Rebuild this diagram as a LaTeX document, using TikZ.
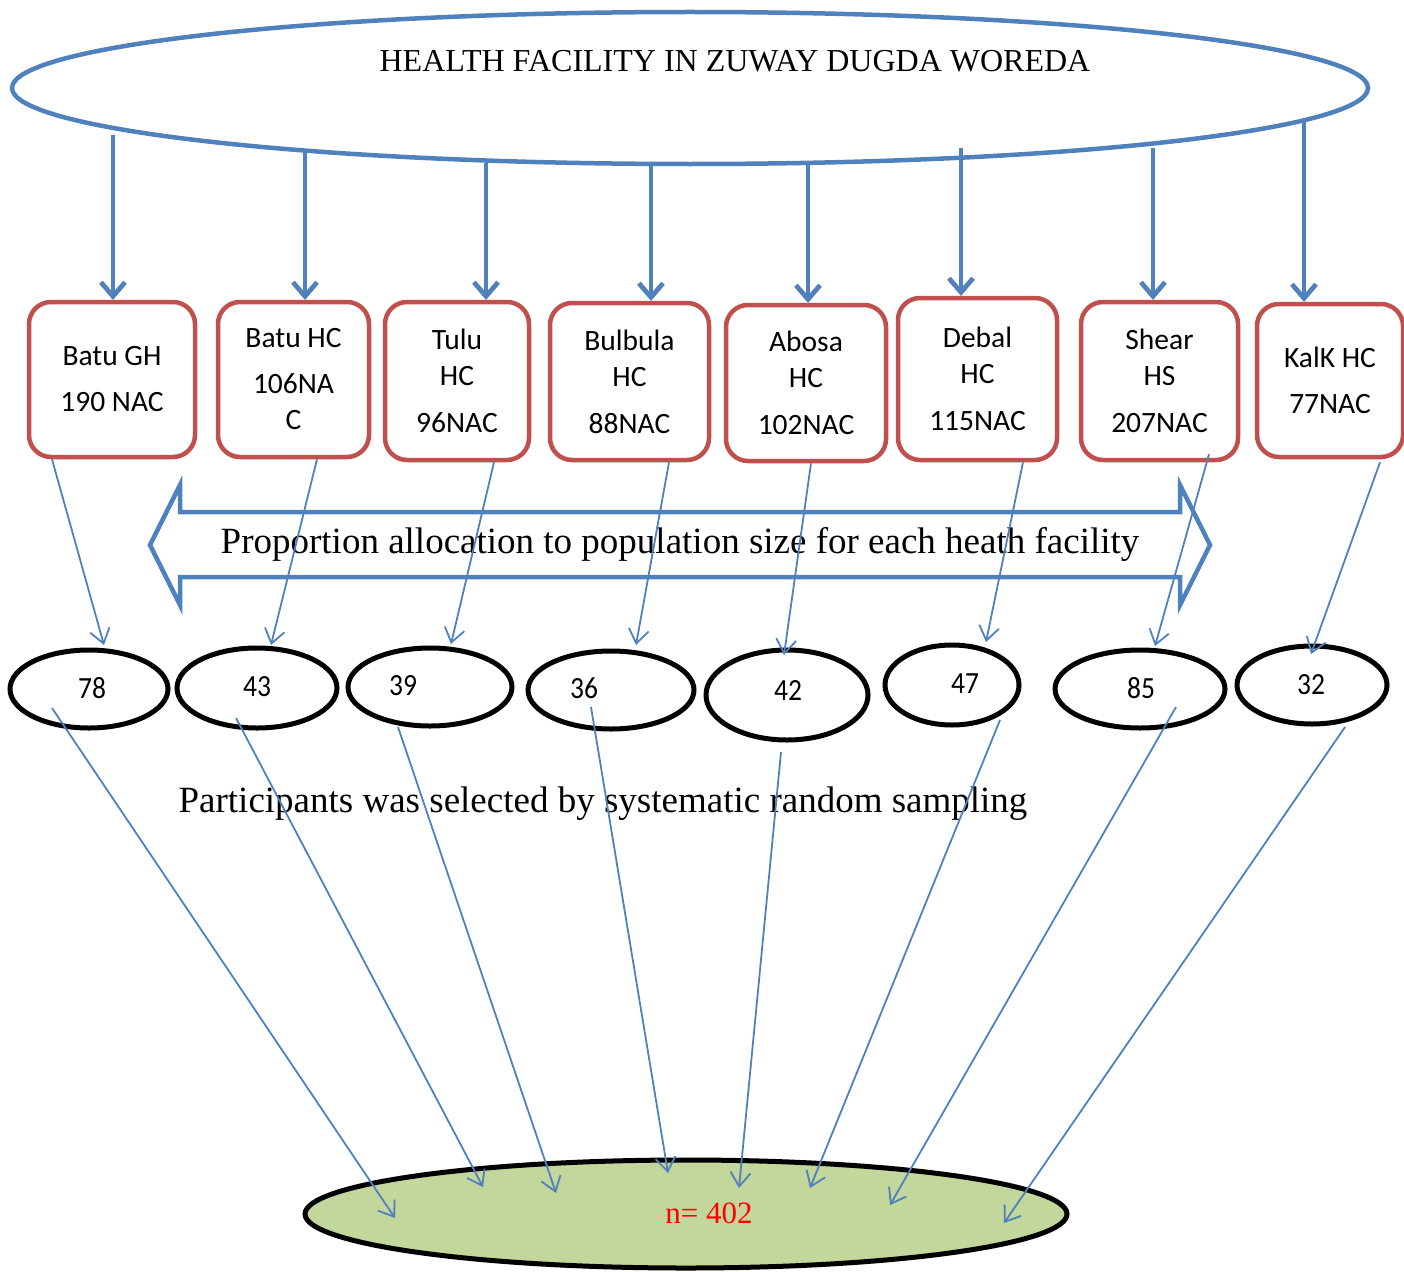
\documentclass[tikz,border=0pt]{standalone}
\usepackage{fontspec}
\setmainfont{Liberation Serif}
\newfontfamily\calfont{Carlito}
\usetikzlibrary{shapes.geometric,arrows.meta,calc}
\definecolor{ablue}{HTML}{4F81BD}
\definecolor{bred}{HTML}{C0504D}
\definecolor{bgreen}{HTML}{C3D69B}
\newcommand{\tallnum}[1]{\scalebox{1}[1.12]{#1}}
\begin{document}
\begin{tikzpicture}[x=1pt,y=-1pt,
  topell/.style={ellipse, draw=ablue, line width=4.5pt, inner sep=0pt, minimum width=1356pt, minimum height=152pt},
  facbox/.style={rectangle, rounded corners=22pt, draw=bred, line width=4.5pt, align=center, inner sep=0pt,
     font=\calfont\fontsize{29.5}{36}\selectfont},
  numell/.style={ellipse, draw=black, line width=5pt, inner sep=0pt},
  botell/.style={ellipse, draw=black, line width=5pt, fill=bgreen, inner sep=0pt, minimum width=762pt, minimum height=108pt},
  bigarrow/.style={draw=ablue, line width=4.5pt, -{Straight Barb[length=14pt,width=24pt]}},
  bigshadow/.style={draw=black!45, line width=4.5pt, -{Straight Barb[length=14pt,width=24pt]}},
  thinarrow/.style={draw=ablue, line width=1.8pt, -{Straight Barb[length=14pt,width=20pt]}},
  serif/.style={font=\fontsize{37}{44}\selectfont, inner sep=0pt, anchor=base},
  numtxt/.style={font=\calfont\fontsize{27.5}{32}\selectfont, inner sep=0pt}
]
\useasboundingbox (0,0) rectangle (1404,1271);

% top ellipse
\node[topell] (top) at (690,88) {};
\node[serif, font=\fontsize{32}{38}\selectfont] (toptext) at (735,72) {HEALTH FACILITY IN ZUWAY DUGDA WOREDA};

% facility boxes
\node[facbox, minimum width=166pt, minimum height=155pt] (b1) at (112,379.5) {Batu GH\\[10pt]190 NAC};
\node[facbox, minimum width=151pt, minimum height=155pt] (b2) at (293.5,379.5) {Batu HC\\[10pt]106NA\\C};
\node[facbox, minimum width=144pt, minimum height=158pt] (b3) at (457,381) {Tulu\\HC\\[11pt]96NAC};
\node[facbox, minimum width=159pt, minimum height=157pt] (b4) at (629.5,381.5) {Bulbula\\HC\\[11pt]88NAC};
\node[facbox, minimum width=160pt, minimum height=156pt] (b5) at (806,383) {Abosa\\HC\\[11pt]102NAC};
\node[facbox, minimum width=159pt, minimum height=162pt] (b6) at (977.5,379) {Debal\\HC\\[11pt]115NAC};
\node[facbox, minimum width=157pt, minimum height=158pt] (b7) at (1159.5,381) {Shear\\HS\\[11pt]207NAC};
\node[facbox, minimum width=146pt, minimum height=153pt] (b8) at (1330,380.5) {KalK HC\\[10pt]77NAC};

% thick arrows from top ellipse to boxes
\foreach \i/\dx/\dy in {1/-577/47, 2/-385/64, 3/-204/75, 4/-39/77, 5/118/77, 6/271/60, 7/463/60, 8/614/32}{
  \coordinate (a\i) at ([shift={(\dx,\dy)}]top.center);
  \draw[bigshadow, yshift=-3pt] (a\i) -- (a\i |- b\i.north);
  \draw[bigarrow] (a\i) -- (a\i |- b\i.north);
}

% double arrow band
\draw[draw=ablue, line width=4.5pt, line join=miter]
  (150,545) -- (180,485) -- (180,512) -- (1180,512) -- (1180,485) -- (1210,545)
  -- (1180,605) -- (1180,577) -- (180,577) -- (180,605) -- cycle;
\node[serif] (proptext) at (680,553) {Proportion allocation to population size for each heath facility};

% number ellipses
\node[numell, minimum width=158pt, minimum height=78pt] (c1) at (89,689) {};
\node[numell, minimum width=160pt, minimum height=80pt] (c2) at (257,688) {};
\node[numell, minimum width=164pt, minimum height=78pt] (c3) at (430,687) {};
\node[numell, minimum width=166pt, minimum height=78pt] (c4) at (611,690) {};
\node[numell, minimum width=162pt, minimum height=90pt] (c5) at (787,695) {};
\node[numell, minimum width=134pt, minimum height=80pt] (c6) at (952,685) {};
\node[numell, minimum width=170pt, minimum height=78pt] (c7) at (1140,689) {};
\node[numell, minimum width=150pt, minimum height=78pt] (c8) at (1312,685) {};
\node[numtxt] (n1) at (92,688) {\tallnum{78}};
\node[numtxt] (n2) at (257,687) {\tallnum{43}};
\node[numtxt] (n3) at (403,686) {\tallnum{39}};
\node[numtxt] (n4) at (584,688) {\tallnum{36}};
\node[numtxt] (n5) at (788,690) {\tallnum{42}};
\node[numtxt] (n6) at (965,684) {\tallnum{47}};
\node[numtxt] (n7) at (1141,688) {\tallnum{85}};
\node[numtxt] (n8) at (1311,685) {\tallnum{32}};

% thin arrows boxes -> number ellipses
\foreach \i/\sx/\sy/\ex/\ey in {1/-60/0/15/-44, 2/23.5/0/14/-43, 3/37/0/21/-43, 4/39.5/0/25/-45,
    5/5/0/-3/-40, 6/45.5/0/34/-43, 7/49.5/-8/15/-43, 8/50/3/-1/-31}{
  \draw[thinarrow] ([shift={(\sx,\sy)}]b\i.south) -- ([shift={(\ex,\ey)}]c\i.center);
}

% bottom
\node[serif] (parttext) at (603,812) {Participants was selected by systematic random sampling};
\node[botell] (bot) at (686,1214) {};
\node[serif, font=\fontsize{31}{36}\selectfont, text=red] (ntext) at (709,1223) {n= 402};

\foreach \i/\sx/\sy/\ex/\ey in {1/-37/19/-291/4, 2/-21/30/-203/-27, 3/-32/40/-130/-21, 4/-20/17/-18/-41,
    5/-6/57/53/-26, 6/48/35/124/-26, 7/36/18/204/-9, 8/33/42/318/9}{
  \draw[thinarrow] ([shift={(\sx,\sy)}]c\i.center) -- ([shift={(\ex,\ey)}]bot.center);
}
\end{tikzpicture}
\end{document}
